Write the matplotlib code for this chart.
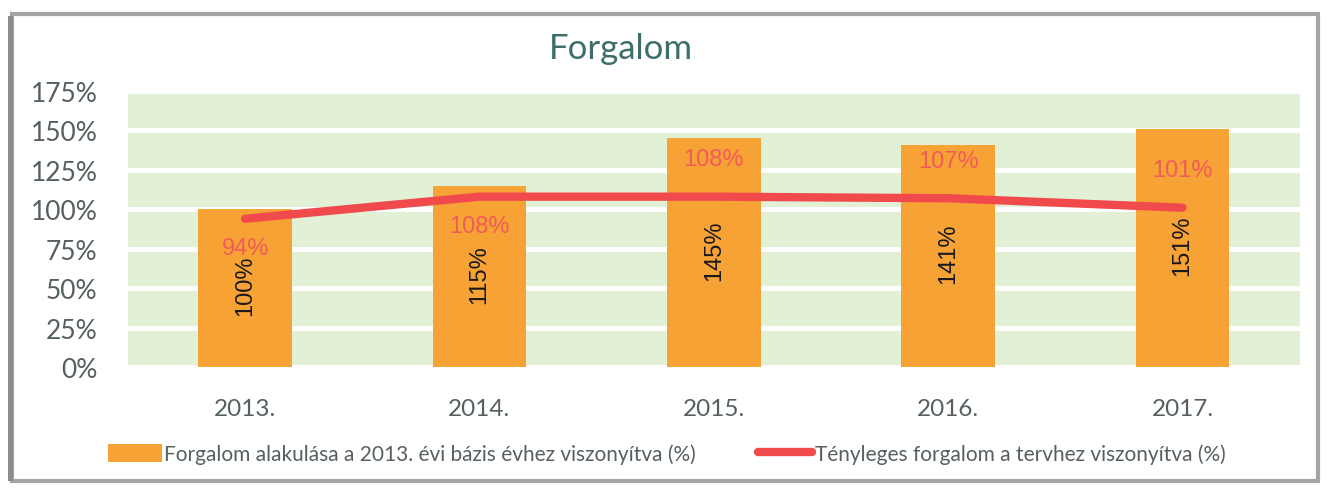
import numpy as np
import matplotlib.pyplot as plt
from matplotlib.patches import Rectangle, Patch
from matplotlib.lines import Line2D

years = ['2013.', '2014.', '2015.', '2016.', '2017.']
base_index = [100, 115, 145, 141, 151]
plan_ratio = [94, 108, 108, 107, 101]
plan_label_above = [False, False, True, True, True]

bar_name = 'Forgalom alakulása a 2013. évi bázis évhez viszonyítva (%)'
line_name = 'Tényleges forgalom a tervhez viszonyítva (%)'

plt.rcParams['font.family'] = ['Lato', 'DejaVu Sans']

orange = '#F7A234'
red = '#F04A4C'
lbl_red = '#F25B5B'
green_bg = '#E2F0D6'
txt = '#55605F'

fig = plt.figure(figsize=(13.33, 4.89), dpi=100)
fig.patch.set_facecolor('white')

# scanned frame
fig.add_artist(Rectangle((0.009, 0.015), 0.98, 0.955, transform=fig.transFigure,
                         fill=False, edgecolor='#A5A5A5', linewidth=3))
fig.add_artist(Rectangle((0.006, 0.015), 0.004, 0.95, transform=fig.transFigure,
                         facecolor='#8C8C8C', edgecolor='none'))

ax = fig.add_axes([0.096, 0.2474, 0.879, 0.5645])
ax.set_facecolor(green_bg)
x = np.arange(len(years))

ax.bar(x, base_index, width=0.4, color=orange, zorder=2)
ax.plot(x, plan_ratio, color=red, linewidth=6, solid_capstyle='round', zorder=3)

for xi, v in zip(x, base_index):
    ax.text(xi, v / 2 + 2, f'{v}%', rotation=90, ha='center', va='center',
            fontsize=17, color='#1A1A1A', family=['Liberation Sans', 'DejaVu Sans'], zorder=4)

for xi, v, above in zip(x, plan_ratio, plan_label_above):
    off = 27 if above else -21
    ax.annotate(f'{v}%', (xi, v), xytext=(0, off), textcoords='offset points',
                ha='center', va='center', fontsize=17, color=lbl_red,
                family=['Liberation Sans', 'DejaVu Sans'], zorder=4)

ax.set_xlim(-0.5, len(years) - 0.5)
ax.set_ylim(0, 175)
ax.set_yticks(np.arange(0, 176, 25))
ax.set_yticklabels([f'{t}%' for t in range(0, 176, 25)])
ax.set_xticks(x)
ax.set_xticklabels(years)
ax.tick_params(axis='y', length=0, labelsize=19, labelcolor=txt, pad=22)
ax.tick_params(axis='x', length=0, labelsize=17.5, labelcolor=txt, pad=22)
ax.grid(axis='y', color='white', linewidth=3.5, zorder=1)
ax.set_axisbelow(True)
for s in ax.spines.values():
    s.set_visible(False)

fig.text(0.466, 0.9, 'Forgalom', ha='center', va='center', fontsize=25, color='#3E6E6C')

# legend
handles = [Patch(facecolor=orange), Line2D([0], [0], color=red, linewidth=6, solid_capstyle='round')]
leg = fig.legend(handles, [bar_name, line_name], loc='center', bbox_to_anchor=(0.5, 0.07),
                 ncol=2, frameon=False, fontsize=15, handlelength=2.6, handleheight=0.9,
                 handletextpad=0.1, columnspacing=3.0)
for t in leg.get_texts():
    t.set_color(txt)

fig.savefig('out.png', dpi=100)
